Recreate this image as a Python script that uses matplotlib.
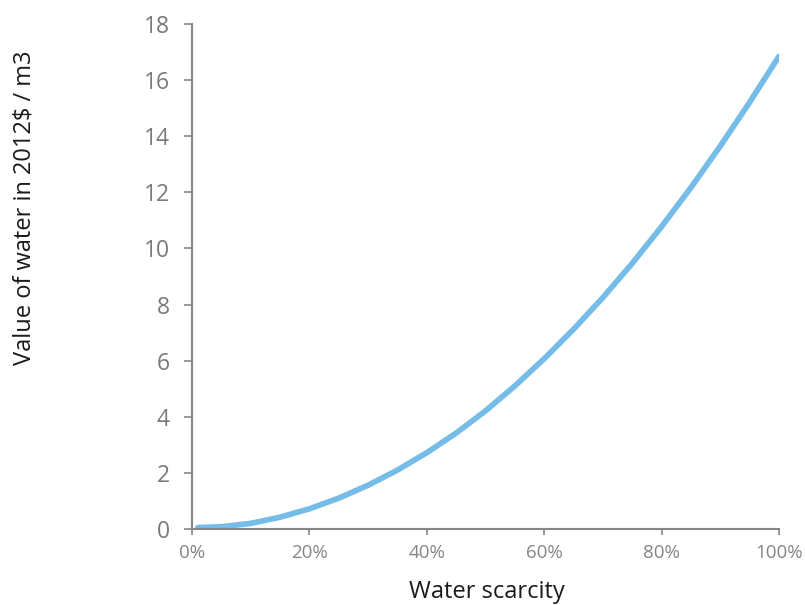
import matplotlib
matplotlib.use("Agg")
import matplotlib.pyplot as plt
from matplotlib.ticker import FuncFormatter

# Data
scarcity = [0.01, 0.05, 0.10, 0.15, 0.20, 0.25, 0.30, 0.35, 0.40, 0.45, 0.50,
            0.55, 0.60, 0.65, 0.70, 0.75, 0.80, 0.85, 0.90, 0.95, 1.00]
value = [0.05, 0.08, 0.20, 0.42, 0.72, 1.10, 1.56, 2.10, 2.72, 3.42, 4.21,
         5.10, 6.07, 7.12, 8.25, 9.47, 10.78, 12.17, 13.65, 15.21, 16.85]
y_ticks = [0, 2, 4, 6, 8, 10, 12, 14, 16, 18]
x_ticks = [0, 0.2, 0.4, 0.6, 0.8, 1.0]

plt.rcParams['font.family'] = ['Open Sans', 'DejaVu Sans']

fig = plt.figure(figsize=(8.05, 6.05), dpi=100)
ax = fig.add_axes([192/805, 1-529/605, (779-192)/805, (529-24)/605])

ax.plot(scarcity, value, color='#75BDE8', lw=4.1, solid_capstyle='round',
        solid_joinstyle='round')

ax.set_xlim(0, 1)
ax.set_ylim(0, 18)
ax.set_xticks(x_ticks)
ax.set_yticks(y_ticks)
ax.xaxis.set_major_formatter(FuncFormatter(lambda v, p: f"{v*100:.0f}%"))

grey = '#868686'
for s in ['top', 'right']:
    ax.spines[s].set_visible(False)
for s in ['left', 'bottom']:
    ax.spines[s].set_color(grey)
    ax.spines[s].set_linewidth(1.5)

ax.tick_params(axis='y', direction='out', length=6, width=1.2, color=grey,
               labelsize=16.5, labelcolor='#7a7a7a', pad=10)
ax.tick_params(axis='x', direction='out', length=4, width=1.2, color=grey,
               labelsize=13.5, labelcolor='#858585', pad=7)
for lbl in ax.get_xticklabels():
    lbl.set_clip_on(False)

fig.text(487/805, 1-592/605, 'Water scarcity', ha='center', va='center',
         fontsize=17, color='#1a1a1a')
fig.text(25/805, 1-208/605, 'Value of water in 2012$ / m3', ha='center',
         va='center', rotation=90, fontsize=17, color='#1a1a1a')

fig.savefig('out.png', dpi=100, facecolor='white')
